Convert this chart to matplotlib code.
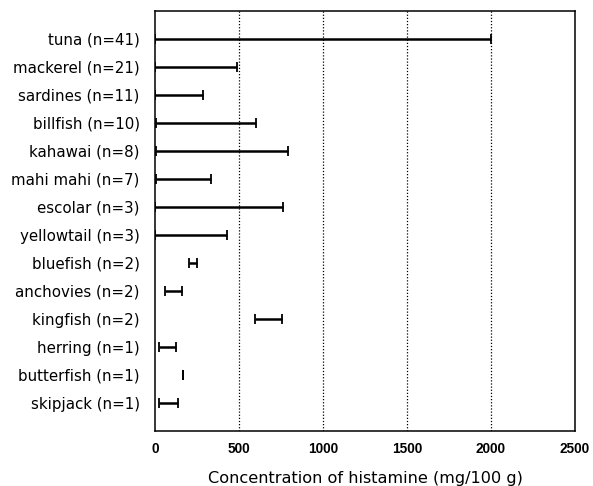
import matplotlib
matplotlib.use("Agg")
import matplotlib.pyplot as plt
import numpy as np

# histamine ranges per fish type (mg/100 g)
species = [
    "tuna (n=41)", "mackerel (n=21)", "sardines (n=11)", "billfish (n=10)",
    "kahawai (n=8)", "mahi mahi (n=7)", "escolar (n=3)", "yellowtail (n=3)",
    "bluefish (n=2)", "anchovies (n=2)", "kingfish (n=2)", "herring (n=1)",
    "butterfish (n=1)", "skipjack (n=1)",
]
low = [0, 0, 0, 6, 6, 6, 0, 2, 202, 60, 595, 24, 169, 24]
high = [2000, 490, 288, 600, 790, 331, 760, 426, 248, 163, 757, 125, 169, 137]
xticks = [0, 500, 1000, 1500, 2000, 2500]


fig = plt.figure(figsize=(5.93, 4.86), dpi=100)
ax = fig.add_axes([0.2614, 0.1132, 0.7082, 0.8642])

y = np.arange(len(species))
for v in xticks[1:-1]:
    ax.axvline(v, color="black", linestyle=(0, (1, 1.5)), linewidth=0.9, zorder=1)

ax.hlines(y, low, high, color="black", linewidth=1.8, zorder=3)
ax.plot(low, y, linestyle="none", marker="|", markersize=7.5, markeredgewidth=1.3,
        color="black", zorder=4)
ax.plot(high, y, linestyle="none", marker="|", markersize=7.5, markeredgewidth=1.3,
        color="black", zorder=4)

ax.set_xlim(0, 2500)
ax.set_ylim(len(species), -1)
ax.set_xticks(xticks)
ax.set_xticklabels([str(t) for t in xticks], family="Liberation Sans",
                   fontweight="bold", fontsize=9.8)
ax.set_yticks(y)
ax.set_yticklabels(species, family="DejaVu Sans", fontsize=10.8)
ax.tick_params(axis="x", length=0, pad=8)
ax.tick_params(axis="y", length=0, pad=11)
ax.set_xlabel("Concentration of histamine (mg/100 g)", family="DejaVu Sans",
              fontsize=11.6, labelpad=11)
for s in ax.spines.values():
    s.set_linewidth(1.1)
    s.set_color("black")

fig.savefig("out.png", dpi=100)
